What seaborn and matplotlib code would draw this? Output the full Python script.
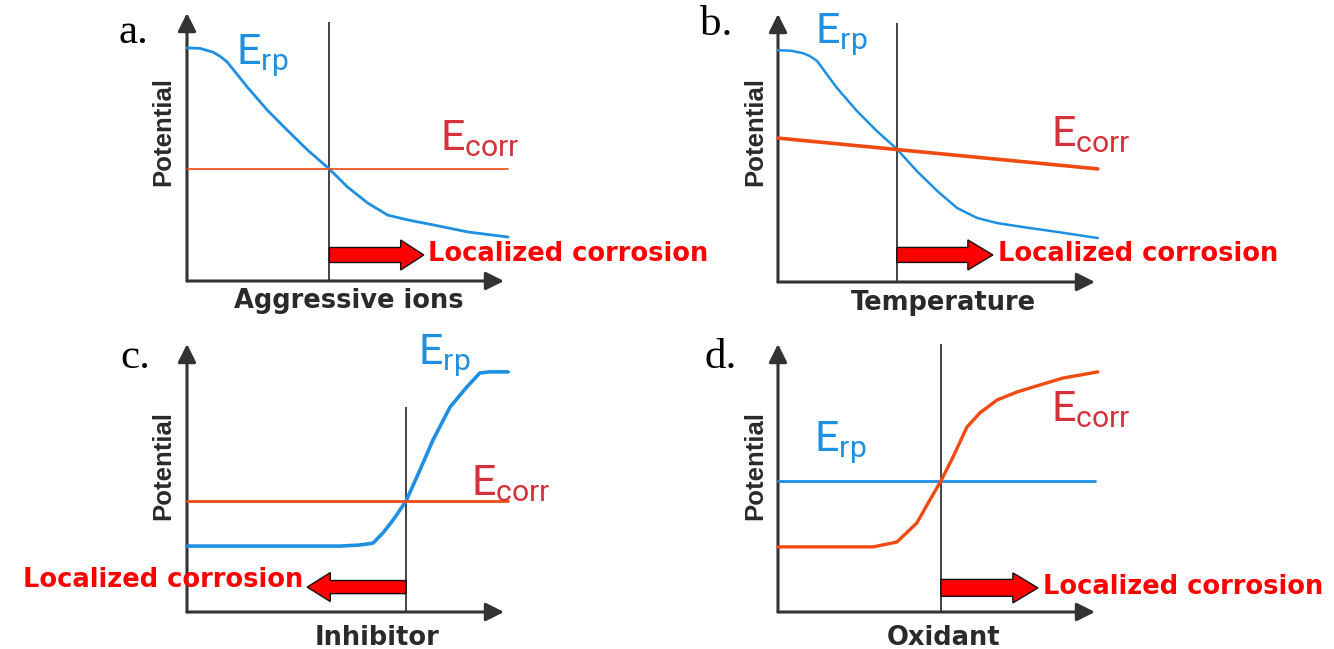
import matplotlib
matplotlib.use("Agg")
import matplotlib.pyplot as plt
from matplotlib.patches import FancyArrow
import seaborn as sns

# ---- data (relative units: x = amount of species, y = potential) ----
a_erp_x = [0, 4.1, 8.2, 10.5, 12.7, 19.0, 25.3, 31.6, 38.0, 44.9, 50.6, 57.0, 63.3, 69.6, 77.8, 88.6, 101.3]
a_erp_y = [87.0, 86.8, 85.4, 83.8, 81.7, 72.4, 63.8, 56.3, 48.9, 41.8, 35.1, 29.1, 24.6, 22.8, 20.9, 18.3, 16.4]
a_ecorr_x = [0, 101.3]
a_ecorr_y = [41.8, 41.8]
a_cross = 44.9

b_erp_x = [0, 4.0, 7.9, 10.2, 12.3, 18.6, 24.9, 31.2, 37.5, 43.8, 50.2, 56.5, 62.8, 69.1, 77.3, 88.0, 100.9]
b_erp_y = [86.5, 86.3, 85.4, 84.2, 82.5, 72.4, 63.8, 56.3, 49.6, 41.4, 34.0, 27.6, 23.9, 22.0, 20.5, 18.7, 16.4]
b_ecorr_x = [0, 100.9]
b_ecorr_y = [53.7, 42.2]
b_cross = 37.5

c_erp_x = [0, 48.3, 54.6, 58.7, 61.8, 65.0, 69.1, 73.5, 77.6, 83.0, 88.3, 92.4, 95.6, 101.3]
c_erp_y = [24.6, 24.6, 25.0, 25.7, 29.5, 34.3, 41.4, 53.0, 64.2, 76.5, 84.0, 89.2, 89.6, 89.6]
c_ecorr_x = [0, 101.3]
c_ecorr_y = [41.4, 41.4]
c_cross = 69.1

d_erp_x = [0, 100.0]
d_erp_y = [48.9, 48.9]
d_ecorr_x = [0, 30.0, 37.5, 43.8, 47.9, 51.4, 55.2, 59.6, 63.7, 69.1, 75.4, 82.6, 89.9, 100.9]
d_ecorr_y = [24.3, 24.3, 26.1, 33.2, 41.8, 48.9, 57.8, 69.0, 74.3, 79.1, 82.1, 84.7, 87.3, 89.6]
d_cross = 51.4

panel_letters = ["a.", "b.", "c.", "d."]
x_labels = ["Aggressive ions", "Temperature", "Inhibitor", "Oxidant"]
y_label = "Potential"
erp_label = r"$\mathrm{E}_{\mathrm{rp}}$"
ecorr_label = r"$\mathrm{E}_{\mathrm{corr}}$"
region_label = "Localized corrosion"

# ---- styling ----
sns.set_theme(style="white")
plt.rcParams["font.family"] = ["DejaVu Sans"]
plt.rcParams["mathtext.fontset"] = "custom"
plt.rcParams["mathtext.rm"] = "Roboto"
plt.rcParams["mathtext.it"] = "Roboto"

BLUE = "#1E8FE1"
ORANGE = "#F04A12"
RED_TXT = "#D6303A"
AXIS = "#333333"

W_PX, H_PX = 1334, 649
fig = plt.figure(figsize=(W_PX / 100, H_PX / 100), dpi=100)
fig.patch.set_facecolor("white")


def fpos(x, y):
    return x / W_PX, 1 - y / H_PX


panels = [
    dict(origin=(187, 281), erp=(a_erp_x, a_erp_y), ecorr=(a_ecorr_x, a_ecorr_y), cross=a_cross,
         vtop=96.6, erp_lw=2.0, ecorr_lw=1.2, arrow=(74.7, 9.7, 5.6, 11.2, 7.3),
         letter=(118, 43), xlab=(349, 308), ylab=(163, 131),
         erp_pos=(236, 64), ecorr_pos=(440, 150), region=(428, 254, "left")),
    dict(origin=(778, 282), erp=(b_erp_x, b_erp_y), ecorr=(b_ecorr_x, b_ecorr_y), cross=b_cross,
         vtop=96.6, erp_lw=1.8, ecorr_lw=2.6, arrow=(67.8, 10.1, 5.6, 11.2, 7.9),
         letter=(700, 35), xlab=(943, 310), ylab=(755, 131),
         erp_pos=(815, 43), ecorr_pos=(1051, 146), region=(998, 254, "left")),
    dict(origin=(187, 612), erp=(c_erp_x, c_erp_y), ecorr=(c_ecorr_x, c_ecorr_y), cross=c_cross,
         vtop=76.5, erp_lw=2.6, ecorr_lw=2.0, arrow=(37.9, 9.3, 4.9, 10.8, 7.3),
         letter=(120, 368), xlab=(377, 645), ylab=(163, 465),
         erp_pos=(418, 364), ecorr_pos=(471, 495), region=(303, 580, "right")),
    dict(origin=(778, 612), erp=(d_erp_x, d_erp_y), ecorr=(d_ecorr_x, d_ecorr_y), cross=d_cross,
         vtop=100.0, erp_lw=2.0, ecorr_lw=2.4, arrow=(82.0, 9.0, 6.3, 11.2, 7.9),
         letter=(705, 368), xlab=(944, 645), ylab=(755, 465),
         erp_pos=(814, 451), ecorr_pos=(1051, 421), region=(1043, 587, "left")),
]

AX_W, AX_H = 317, 268

for i, p in enumerate(panels):
    ox, oy = p["origin"]
    left, bottom = fpos(ox, oy)
    ax = fig.add_axes([left, bottom, AX_W / W_PX, AX_H / H_PX])
    ax.set_xlim(0, 100)
    ax.set_ylim(0, 100)
    ax.set_axis_off()

    # axes drawn as arrows
    arrow_kw = dict(arrowstyle="-|>,head_length=0.5,head_width=0.25", color=AXIS, lw=2.2,
                    shrinkA=0, shrinkB=0, mutation_scale=22)
    ax.annotate("", xy=(0, 1), xytext=(0, 0), xycoords="axes fraction", arrowprops=arrow_kw)
    ax.annotate("", xy=(1, 0), xytext=(0, 0), xycoords="axes fraction", arrowprops=arrow_kw)

    # threshold line at the crossing point
    ax.plot([p["cross"], p["cross"]], [0, p["vtop"]], color="#111111", lw=1.1,
            solid_capstyle="butt", clip_on=False, zorder=2)

    ex, ey = p["erp"]
    cx, cy = p["ecorr"]
    sns.lineplot(x=ex, y=ey, ax=ax, color=BLUE, linewidth=p["erp_lw"], sort=False,
                 estimator=None, clip_on=False, zorder=3)
    sns.lineplot(x=cx, y=cy, ax=ax, color=ORANGE, linewidth=p["ecorr_lw"], sort=False,
                 estimator=None, clip_on=False, zorder=3)

    # localized-corrosion direction arrow
    x_end, ay, shaft, head_w, head_l = p["arrow"]
    arr = FancyArrow(p["cross"], ay, x_end - p["cross"], 0, width=shaft, head_width=head_w,
                     head_length=head_l, length_includes_head=True, facecolor="#FF0000",
                     edgecolor="#111111", linewidth=1.0, clip_on=False, zorder=4)
    ax.add_patch(arr)

    # texts
    lx, ly = p["letter"]
    fig.text(*fpos(lx, ly), panel_letters[i], family="Liberation Serif", fontsize=31,
             color="black", ha="left", va="baseline")
    xx, xy = p["xlab"]
    fig.text(*fpos(xx, xy), x_labels[i], fontsize=18.5, fontweight="bold", color="#2a2a2a",
             ha="center", va="baseline")
    yx, yy = p["ylab"]
    fig.text(*fpos(yx, yy), y_label, family="Liberation Sans", fontsize=18.5, fontweight="bold",
             color="#2a2a2a", rotation=90, ha="center", va="center")
    fig.text(*fpos(*p["erp_pos"]), erp_label, fontsize=31, color=BLUE, ha="left", va="baseline")
    fig.text(*fpos(*p["ecorr_pos"]), ecorr_label, fontsize=31, color=RED_TXT, ha="left",
             va="baseline")
    rx, ry, rha = p["region"]
    fig.text(*fpos(rx, ry), region_label, fontsize=18.5, fontweight="bold", color="#FF0000",
             ha=rha, va="center")

fig.savefig("out.png", dpi=100, facecolor="white")
